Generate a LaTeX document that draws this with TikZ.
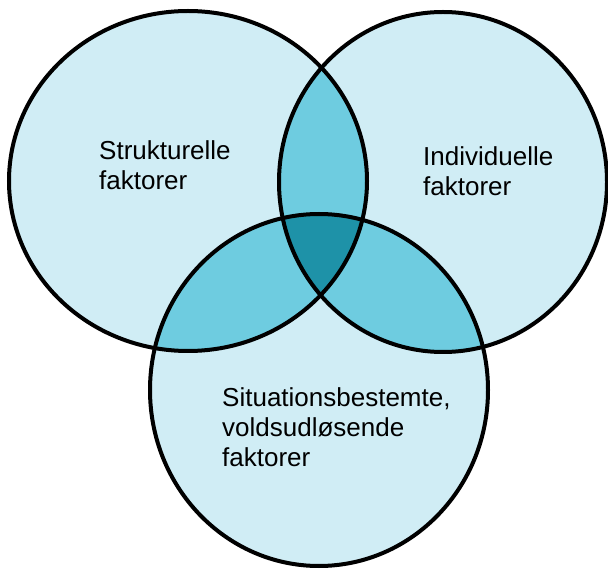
\documentclass[tikz,border=0pt]{standalone}
\usepackage{fontspec}
\setmainfont{Liberation Sans}
\definecolor{palecyan}{RGB}{208,237,245}
\definecolor{midcyan}{RGB}{110,204,224}
\definecolor{deepcyan}{RGB}{30,146,168}
\begin{document}
\begin{tikzpicture}[x=1pt, y=-1pt,
    ring/.style={draw=black, line width=4pt},
    factor/.style={font=\fontsize{26}{30}\selectfont, align=left, anchor=north west, inner sep=0pt}]

    \useasboundingbox (0,0) rectangle (608,569);

    \coordinate (L) at (188,181);
    \coordinate (R) at (443,182);
    \coordinate (B) at (319,390);

    \fill[palecyan] (L) ellipse (179 and 170);
    \fill[palecyan] (R) ellipse (164 and 170);
    \fill[palecyan] (B) ellipse (169 and 176);

    \begin{scope}
        \clip (R) ellipse (164 and 170);
        \fill[midcyan] (B) ellipse (169 and 176);
    \end{scope}
    \begin{scope}
        \clip (L) ellipse (179 and 170);
        \fill[midcyan] (R) ellipse (164 and 170);
        \fill[midcyan] (B) ellipse (169 and 176);
        \clip (R) ellipse (164 and 170);
        \fill[deepcyan] (B) ellipse (169 and 176);
    \end{scope}

    \draw[ring] (L) ellipse (179 and 170);
    \draw[ring] (R) ellipse (164 and 170);
    \draw[ring] (B) ellipse (169 and 176);

    \node[factor] (struk) at (99,140) {Strukturelle\\faktorer};
    \node[factor] (indiv) at (423,146) {Individuelle\\faktorer};
    \node[factor] (situ) at (222,387) {Situationsbestemte,\\voldsudløsende\\faktorer};

\end{tikzpicture}
\end{document}
